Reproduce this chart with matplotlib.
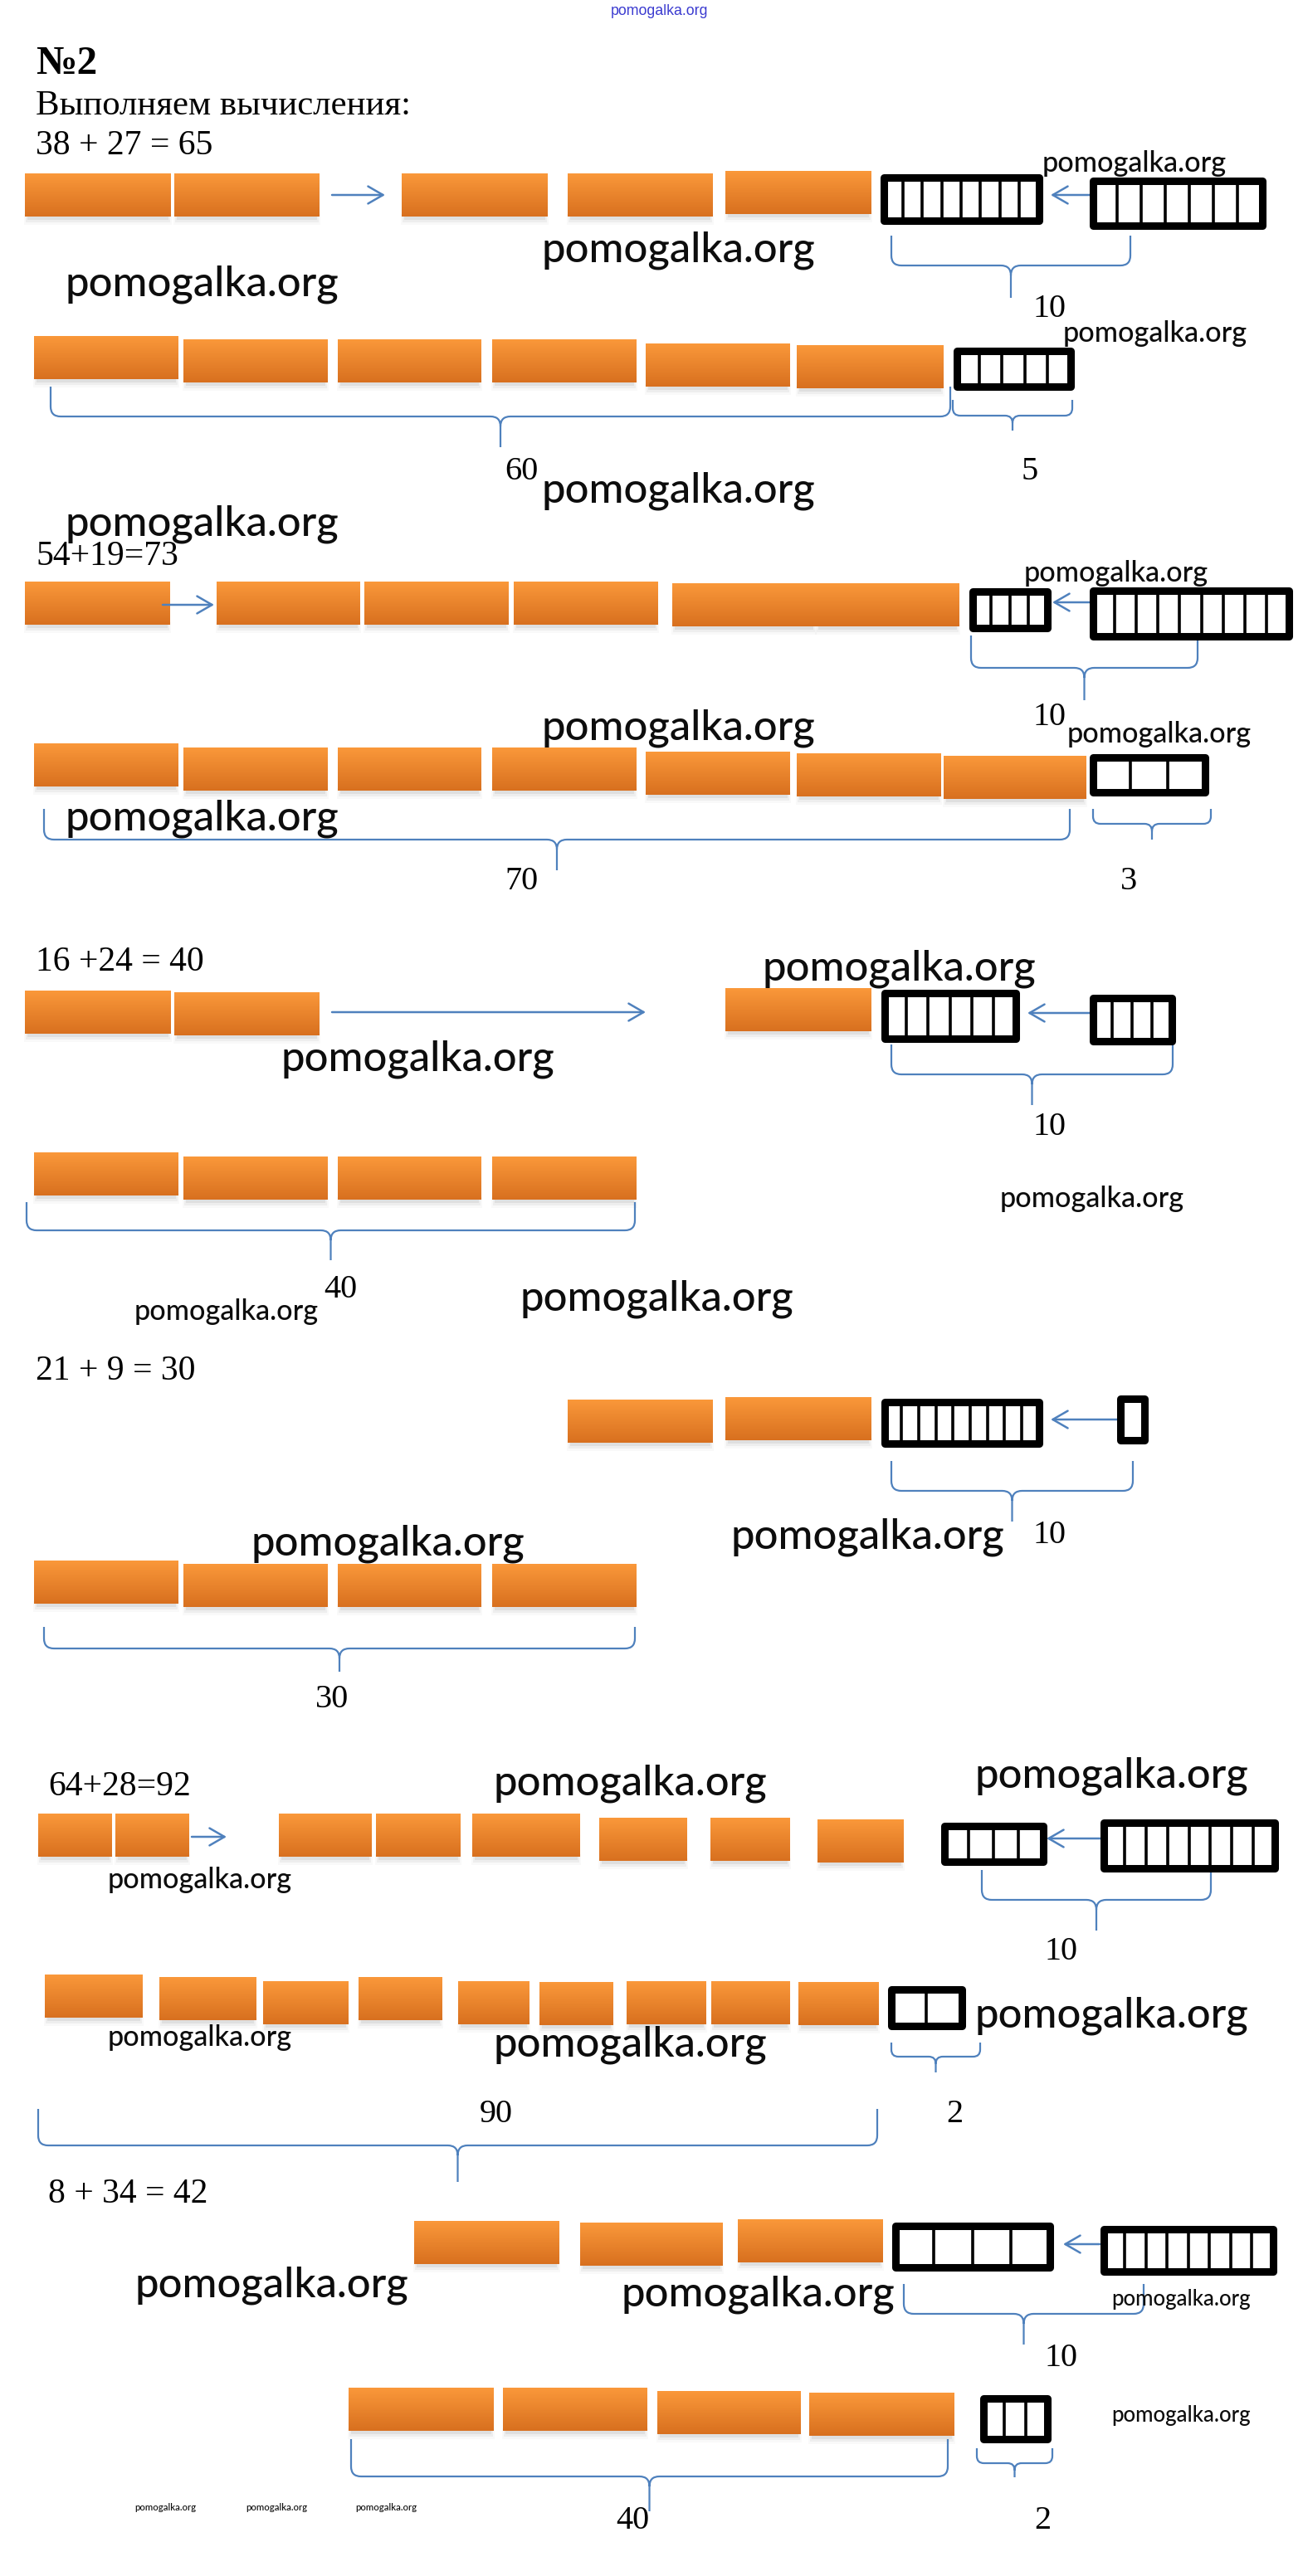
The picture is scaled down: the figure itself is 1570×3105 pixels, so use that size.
import numpy as np
import matplotlib.pyplot as plt
from matplotlib.patches import Rectangle, PathPatch
from matplotlib.path import Path
import matplotlib.colors as mcolors

# values shown in the picture
title = "№2"
subtitle = "Выполняем вычисления:"
equations = ["38 + 27 = 65", "54+19=73", "16 +24 = 40", "21 + 9 = 30", "64+28=92", "8 + 34 = 42"]
carry_labels = ["10", "10", "10", "10", "10", "10"]
tens_totals = ["60", "70", "40", "30", "90", "40"]
ones_totals = ["5", "3", "", "", "2", "2"]
left_cells = [8, 4, 6, 9, 4, 4]
right_cells = [7, 9, 4, 1, 8, 8]
rest_cells = [5, 3, 0, 0, 2, 3]
watermark = "pomogalka.org"

W, H = 1570, 3105
fig = plt.figure(figsize=(W / 100, H / 100), dpi=100)
ax = fig.add_axes([0, 0, 1, 1])
ax.set_xlim(0, W)
ax.set_ylim(H, 0)
ax.axis('off')
renderer = fig.canvas.get_renderer()

blue = '#4f81bd'
serif = 'Liberation Serif'

# orange gradient for ten-bars
c_top = np.array(mcolors.to_rgb('#fa983a'))
c_bot = np.array(mcolors.to_rgb('#d8701f'))
t = np.linspace(0, 1, 64)[:, None]
grad = (c_top * (1 - t) + c_bot * t)[:, None, :]


def bar(x0, x1, y0, h=52):
    for k, a in enumerate([0.12, 0.07, 0.04]):
        ax.add_patch(Rectangle((x0 + 3 - 2 * k, y0 + h - 3), x1 - x0 - 6 + 4 * k, 7 + 3 * k,
                               color='#707070', alpha=a, lw=0, zorder=1))
    ax.imshow(grad, extent=(x0, x1, y0 + h, y0), aspect='auto',
              interpolation='bilinear', zorder=2)


def box(x0, x1, y0, y1, n):
    pad = 4.5
    ax.add_patch(Rectangle((x0 + pad, y0 + pad), x1 - x0 - 2 * pad, y1 - y0 - 2 * pad,
                           fc='white', ec='black', lw=6.5, joinstyle='round', zorder=4))
    for i in range(1, n):
        xi = x0 + pad + (x1 - x0 - 2 * pad) * i / n
        ax.plot([xi, xi], [y0 + pad, y1 - pad], color='black', lw=2.6, zorder=4)


def brace(x0, x1, yt, yb, ytip):
    r = min(12, (yb - yt) * 0.5, (ytip - yb) * 0.5)
    xm = (x0 + x1) / 2
    M, L, C = Path.MOVETO, Path.LINETO, Path.CURVE3
    verts = [(x0, yt), (x0, yb - r), (x0, yb), (x0 + r, yb), (xm - r, yb), (xm, yb), (xm, yb + r), (xm, ytip),
             (x1, yt), (x1, yb - r), (x1, yb), (x1 - r, yb), (xm + r, yb), (xm, yb), (xm, yb + r)]
    codes = [M, L, C, C, L, C, C, L, M, L, C, C, L, C, C]
    ax.add_patch(PathPatch(Path(verts, codes), fc='none', ec=blue, lw=1.6, zorder=3))


def arrow(xa, xb, y):
    ax.annotate('', xy=(xb, y), xytext=(xa, y),
                arrowprops=dict(arrowstyle='->,head_length=1.3,head_width=0.75', color=blue,
                                lw=1.8, shrinkA=0, shrinkB=0, mutation_scale=10), zorder=3)


def fit(x, y, s, width, **kw):
    tx = ax.text(x, y, s, fontsize=20, **kw)
    w = tx.get_window_extent(renderer).width
    tx.set_fontsize(20 * width / w)
    return tx


# header
fit(795, 13, watermark, 117, family='Liberation Sans', color='#3b3bd0', ha='center', va='center')
fit(43, 77, title, 74, family=serif, weight='bold', va='center')
fit(43, 128, subtitle, 455, family=serif, va='center')

# equation captions
eq_pos = [(43, 176), (43, 671), (43, 1160), (43, 1653), (58, 2154), (58, 2645)]
for (x, y), s in zip(eq_pos, equations):
    ax.text(x, y, s, fontsize=30, family=serif, va='center')

# ten-bars per row: (x0, x1, top)
bars = [
    [(30, 206, 209), (210, 385, 209), (484, 660, 209), (684, 859, 209), (874, 1050, 206)],
    [(41, 215, 405), (221, 395, 409), (407, 580, 409), (593, 767, 409), (778, 952, 414), (960, 1137, 416)],
    [(30, 205, 701), (261, 434, 701), (439, 613, 701), (619, 793, 701), (810, 983, 703), (983, 1156, 703)],
    [(41, 215, 896), (221, 395, 901), (407, 580, 901), (593, 767, 901), (778, 952, 906),
     (960, 1134, 908), (1137, 1309, 911)],
    [(30, 206, 1194), (210, 385, 1196), (874, 1050, 1191)],
    [(41, 215, 1389), (221, 395, 1394), (407, 580, 1394), (593, 767, 1394)],
    [(684, 859, 1687), (874, 1050, 1684)],
    [(41, 215, 1881), (221, 395, 1885), (407, 580, 1885), (593, 767, 1885)],
    [(46, 135, 2186), (139, 228, 2186), (336, 448, 2186), (453, 555, 2186), (569, 699, 2186),
     (722, 828, 2191), (856, 952, 2191), (985, 1089, 2193)],
    [(54, 172, 2380), (192, 309, 2383), (317, 420, 2388), (432, 533, 2383), (552, 638, 2388),
     (650, 739, 2389), (755, 851, 2388), (857, 952, 2388), (962, 1059, 2389)],
    [(499, 674, 2677), (699, 871, 2679), (889, 1064, 2675)],
    [(420, 595, 2878), (606, 780, 2878), (792, 965, 2882), (975, 1150, 2884)],
]
for row in bars:
    for x0, x1, y0 in row:
        bar(x0, x1, y0)

# ones boxes
left_box = [(1060, 1256, 209, 270), (1167, 1266, 708, 761), (1061, 1228, 1192, 1256),
            (1061, 1256, 1685, 1744), (1133, 1261, 2196, 2248), (1074, 1269, 2678, 2737)]
right_box = [(1312, 1525, 213, 276), (1312, 1557, 707, 771), (1312, 1416, 1198, 1259),
             (1345, 1383, 1681, 1740), (1325, 1540, 2192, 2256), (1325, 1538, 2682, 2742)]
rest_box = [(1148, 1294, 418, 470), (1312, 1456, 908, 959), None, None,
            (1069, 1163, 2393, 2446), (1180, 1266, 2886, 2944)]
for i in range(6):
    box(*left_box[i], left_cells[i])
    box(*right_box[i], right_cells[i])
    if rest_box[i] is not None and rest_cells[i] > 0:
        box(*rest_box[i], rest_cells[i])

# arrows
for xa, xb, y in [(400, 464, 235), (196, 258, 729), (400, 778, 1220), (231, 273, 2214)]:
    arrow(xa, xb, y)
for xa, xb, y in [(1347, 1266, 235), (1315, 1268, 726), (1315, 1238, 1221),
                  (1347, 1266, 1711), (1339, 1261, 2216), (1325, 1281, 2705)]:
    arrow(xa, xb, y)

# braces under the carried ten
carry_brace = [(1074, 1362, 284, 320, 359), (1170, 1443, 766, 805, 844), (1074, 1413, 1259, 1295, 1332),
               (1074, 1365, 1761, 1797, 1834), (1183, 1459, 2254, 2290, 2327), (1089, 1378, 2753, 2789, 2826)]
carry_text = [(1264, 373), (1264, 865), (1264, 1359), (1264, 1851), (1278, 2352), (1278, 2842)]
for b, (x, y), s in zip(carry_brace, carry_text, carry_labels):
    brace(*b)
    ax.text(x, y, s, fontsize=29, family=serif, ha='center', va='center')

# braces under the result
tens_brace = [(61, 1145, 466, 502, 539), (53, 1289, 975, 1012, 1049), (32, 765, 1449, 1483, 1519),
              (53, 765, 1961, 1987, 2015), (46, 1057, 2542, 2586, 2630), (423, 1142, 2940, 2985, 3027)]
tens_text = [(628, 569), (628, 1062), (410, 1555), (400, 2048), (598, 2548), (762, 3038)]
ones_brace = [(1148, 1292, 482, 501, 519), (1317, 1459, 975, 993, 1012), None, None,
              (1074, 1181, 2462, 2479, 2498), (1177, 1268, 2951, 2969, 2986)]
ones_text = [(1241, 569), (1360, 1062), None, None, (1150, 2548), (1256, 3038)]
for i in range(6):
    brace(*tens_brace[i])
    ax.text(*tens_text[i], tens_totals[i], fontsize=29, family=serif, ha='center', va='center')
    if ones_brace[i] is not None:
        brace(*ones_brace[i])
        ax.text(*ones_text[i], ones_totals[i], fontsize=29, family=serif, ha='center', va='center')

# watermarks: (left x, centre y, width)
marks = [(652, 302, 330), (79, 343, 330), (652, 592, 330), (79, 632, 330), (652, 878, 330),
         (79, 987, 330), (918, 1168, 330), (339, 1277, 330), (626, 1566, 330), (302, 1861, 330),
         (881, 1853, 330), (594, 2150, 330), (1175, 2141, 330), (1175, 2430, 330), (594, 2465, 330),
         (162, 2755, 330), (748, 2766, 330),
         (1256, 197, 223), (1281, 402, 223), (1234, 691, 223), (1286, 885, 223),
         (1205, 1445, 222), (162, 1581, 222), (130, 2266, 222), (130, 2456, 222),
         (1339, 2771, 168), (1339, 2911, 168),
         (162, 3022, 74), (296, 3022, 74), (428, 3022, 74)]
for x, y, w in marks:
    fit(x, y, watermark, w, family='Lato', weight='medium', color='#0d0d0d', va='center', zorder=6)

ax.set_xlim(0, W)
ax.set_ylim(H, 0)
fig.savefig('out.png', dpi=100, facecolor='white')
